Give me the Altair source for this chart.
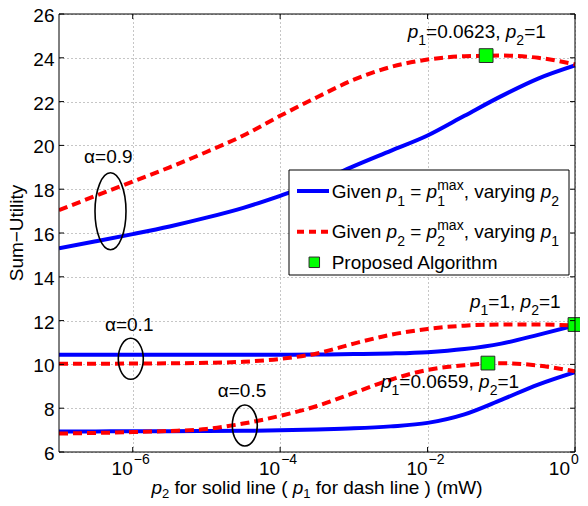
import altair as alt
import pandas as pd

FONT = "Liberation Sans"

# ---------------- data ----------------
p_grid = [1e-7, 3.162e-7, 1e-6, 3.162e-6, 1e-5, 3.162e-5, 1e-4, 3.162e-4,
          1e-3, 3.162e-3, 1e-2, 3.162e-2, 0.1, 0.3162, 1.0]

solid_a09 = [15.30, 15.62, 15.95, 16.30, 16.70, 17.15, 17.70, 18.30, 19.05, 19.75, 20.45, 21.35, 22.25, 23.05, 23.65]
dash_a09 = [17.04, 17.70, 18.35, 19.00, 19.70, 20.45, 21.35, 22.20, 23.00, 23.58, 23.92, 24.07, 24.10, 24.00, 23.70]
solid_a01 = [10.44, 10.44, 10.44, 10.44, 10.44, 10.44, 10.44, 10.45, 10.47, 10.50, 10.56, 10.70, 10.95, 11.35, 11.78]
dash_a01 = [10.03, 10.03, 10.04, 10.05, 10.07, 10.12, 10.25, 10.50, 10.95, 11.35, 11.62, 11.77, 11.82, 11.82, 11.78]
solid_a05 = [6.94, 6.94, 6.95, 6.95, 6.96, 6.97, 6.99, 7.03, 7.08, 7.17, 7.33, 7.72, 8.38, 9.08, 9.65]
dash_a05 = [6.84, 6.87, 6.91, 6.96, 7.05, 7.30, 7.65, 8.10, 8.70, 9.30, 9.75, 9.96, 10.05, 9.95, 9.68]

alg_p = [0.0623, 1.0, 0.0659]
alg_u = [24.10, 11.82, 10.06]

x_ticks = [1e-6, 1e-4, 1e-2, 1.0]
x_tick_exp = ["\u22126", "\u22124", "\u22122", "0"]
y_ticks = [6, 8, 10, 12, 14, 16, 18, 20, 22, 24, 26]

# ---------------- tables ----------------
rows = []
for a, s, d in [("0.9", solid_a09, dash_a09), ("0.1", solid_a01, dash_a01), ("0.5", solid_a05, dash_a05)]:
    for p, v in zip(p_grid, s):
        rows.append({"p": p, "u": v, "alpha": a, "kind": "solid"})
    for p, v in zip(p_grid, d):
        rows.append({"p": p, "u": v, "alpha": a, "kind": "dash"})
df = pd.DataFrame(rows)
df_alg = pd.DataFrame({"p": alg_p, "u": alg_u})
df_xt = pd.DataFrame({"p": x_ticks, "exp": x_tick_exp})
df_xt_in = df_xt.iloc[:-1]
df_xt_last = df_xt.iloc[-1:]
df_yt = pd.DataFrame({"u": y_ticks})
one = pd.DataFrame({"k": [0]})

PAD_L, PAD_T = 51, 6
W_PLOT, H_PLOT = 516, 438
OX, OY = 8 + PAD_L, 8 + PAD_T   # page position of the plot origin


def px(v):
    return v - OX


def py(v):
    return v - OY


xscale = alt.Scale(type="log", domain=[1e-7, 1.0], nice=False)
yscale = alt.Scale(domain=[6, 26], nice=False, zero=False)
xaxis = alt.Axis(values=x_ticks, labels=False, ticks=False, domain=False, grid=True,
                 gridDash=[1, 3], gridColor="#8c8c8c", gridWidth=1, title=None)
yaxis = alt.Axis(values=y_ticks, ticks=False, tickSize=0, domain=False, grid=True,
                 gridDash=[1, 3], gridColor="#8c8c8c", gridWidth=1, title=None,
                 labelFont=FONT, labelFontSize=19, labelColor="black", labelPadding=5,
                 labelOverlap=False, labelOffset=1.5)


def X():
    return alt.X("p:Q", scale=xscale, axis=xaxis)


def Y():
    return alt.Y("u:Q", scale=yscale, axis=yaxis)


# ---------------- rich text helper ----------------
WID = {' ': .278, ',': .278, '.': .278, '=': .584, '(': .333, ')': .333, '\u2212': .584,
       'a': .556, 'c': .5, 'd': .556, 'e': .556, 'f': .278, 'g': .556, 'h': .556, 'i': .222,
       'l': .222, 'm': .833, 'n': .556, 'o': .556, 'p': .556, 'r': .333, 's': .5, 't': .278,
       'u': .556, 'v': .5, 'x': .5, 'y': .5, 'A': .667, 'G': .778, 'P': .667, 'S': .667,
       'U': .722, 'W': .944}


def tw(s, fs):
    return sum(WID.get(c, .556) for c in s) * fs


def rich(segs, x0, y0, fs=19, fss=14, sub=7, sup=-8, center=False):
    """x0, y0 in page pixels (left start or centre, alphabetic baseline)."""
    pieces = []
    x = 0.0

    def add(text, dy, size, it):
        lead = len(text) - len(text.lstrip(" "))
        body = text.strip(" ")
        if body:
            pieces.append((body, x + tw(" " * lead, size), dy, size, it))
        return tw(text, size)

    for text, kind in segs:
        if kind == "n":
            x += add(text, 0, fs, False)
        elif kind == "i":
            x += add(text, 0, fs, True)
        elif kind == "sub":
            x += add(text, sub, fss, False)
        elif kind == "ss":
            up, dn = text
            w1 = add(up, sup, fss, False)
            w2 = add(dn, sub, fss, False)
            x += max(w1, w2)
    off = px(x0) - x / 2 if center else px(x0)
    layers = []
    for t, qx, qy, size, it in pieces:
        layers.append(
            alt.Chart(one).mark_text(text=t, align="left", baseline="alphabetic", font=FONT,
                                     fontSize=size, fontStyle="italic" if it else "normal",
                                     color="black")
            .encode(x=alt.value(off + qx), y=alt.value(py(y0) + qy))
        )
    return layers


def ellipse_path(ratio):
    r = round(ratio, 4)
    return f"M {-r} 0 A {r} 1 0 1 0 {r} 0 A {r} 1 0 1 0 {-r} 0 Z"


# ---------------- marks ----------------
base_solid = alt.Chart(df[df.kind == "solid"]).mark_line(
    color="#0000ff", strokeWidth=4, interpolate="monotone", clip=True
).encode(x=X(), y=Y(), detail="alpha:N")

base_dash = alt.Chart(df[df.kind == "dash"]).mark_line(
    color="#ff0000", strokeWidth=4, strokeDash=[9, 5], interpolate="monotone", clip=True
).encode(x=X(), y=Y(), detail="alpha:N")

squares = alt.Chart(df_alg).mark_point(
    shape="square", filled=True, fill="#00ff00", stroke="#2a2a2a", strokeWidth=1,
    size=190, opacity=1
).encode(x=X(), y=Y())

# inward ticks
tick_l = alt.Chart(df_yt).mark_rule(color="black", strokeWidth=1).encode(
    y=Y(), x=alt.value(0), x2=alt.value(5))
tick_r = alt.Chart(df_yt).mark_rule(color="black", strokeWidth=1).encode(
    y=Y(), x=alt.value(W_PLOT - 5), x2=alt.value(W_PLOT))
tick_b = alt.Chart(df_xt).mark_rule(color="black", strokeWidth=1).encode(
    x=X(), y=alt.value(H_PLOT - 5), y2=alt.value(H_PLOT))
tick_t = alt.Chart(df_xt).mark_rule(color="black", strokeWidth=1).encode(
    x=X(), y=alt.value(0), y2=alt.value(5))

frame = alt.Chart(one).mark_rect(fillOpacity=0, stroke="black", strokeWidth=1).encode(
    x=alt.value(0), x2=alt.value(W_PLOT), y=alt.value(0), y2=alt.value(H_PLOT))

# x tick labels 10^k
XB, XS = py(475), py(464)
xlab_layers = []
for dfx, shift in [(df_xt_in, 0), (df_xt_last, -5)]:
    xlab_layers.append(alt.Chart(dfx).mark_text(
        text="10", align="right", baseline="alphabetic", font=FONT, fontSize=19, color="black",
        dx=shift
    ).encode(x=X(), y=alt.value(XB)))
    xlab_layers.append(alt.Chart(dfx).mark_text(
        align="left", baseline="alphabetic", font=FONT, fontSize=14, color="black", dx=shift + 1
    ).encode(x=X(), y=alt.value(XS), text="exp:N"))

# y title
ytitle = alt.Chart(one).mark_text(
    text="Sum\u2212Utility", angle=270, align="center", baseline="middle", font=FONT,
    fontSize=19, color="black"
).encode(x=alt.value(px(17)), y=alt.value(H_PLOT / 2))

# legend
leg_box = alt.Chart(one).mark_rect(fill="white", stroke="black", strokeWidth=1).encode(
    x=alt.value(px(289)), x2=alt.value(px(569)), y=alt.value(py(170)), y2=alt.value(py(275)))
leg_blue = alt.Chart(one).mark_rule(color="#0000ff", strokeWidth=4).encode(
    x=alt.value(px(297)), x2=alt.value(px(329)), y=alt.value(py(191)))
leg_red = alt.Chart(one).mark_rule(color="#ff0000", strokeWidth=4, strokeDash=[7, 5]).encode(
    x=alt.value(px(297)), x2=alt.value(px(329)), y=alt.value(py(231.7)))
leg_sq = alt.Chart(one).mark_point(
    shape="square", filled=True, fill="#00ff00", stroke="#2a2a2a", strokeWidth=1, size=110, opacity=1
).encode(x=alt.value(px(314.3)), y=alt.value(py(262.3)))

layers = [base_solid, base_dash, squares, leg_box, leg_blue, leg_red, leg_sq]

layers += rich([("Given ", "n"), ("p", "i"), ("1", "sub"), (" = ", "n"), ("p", "i"),
                (("max", "1"), "ss"), (", varying ", "n"), ("p", "i"), ("2", "sub")],
               331.7, 197.7, sub=8, sup=-8)
layers += rich([("Given ", "n"), ("p", "i"), ("2", "sub"), (" = ", "n"), ("p", "i"),
                (("max", "2"), "ss"), (", varying ", "n"), ("p", "i"), ("1", "sub")],
               331.7, 238.3, sub=8, sup=-8)
layers += rich([("Proposed Algorithm", "n")], 331.7, 269)

# point annotations
layers += rich([("p", "i"), ("1", "sub"), ("=0.0623, ", "n"), ("p", "i"), ("2", "sub"), ("=1", "n")],
               407.7, 38.3)
layers += rich([("p", "i"), ("1", "sub"), ("=1, ", "n"), ("p", "i"), ("2", "sub"), ("=1", "n")],
               470, 308.3)
layers += rich([("p", "i"), ("1", "sub"), ("=0.0659, ", "n"), ("p", "i"), ("2", "sub"), ("=1", "n")],
               381, 388.3)

# alpha labels and ellipses
for lab, lx, ly in [("\u03b1=0.9", 108.3, 162.7), ("\u03b1=0.1", 129.2, 331), ("\u03b1=0.5", 242, 397.3)]:
    layers.append(alt.Chart(one).mark_text(
        text=lab, align="center", baseline="alphabetic", font=FONT, fontSize=19, color="black"
    ).encode(x=alt.value(px(lx)), y=alt.value(py(ly))))

for cx, cy, rx, ry in [(110.5, 211.3, 15.5, 38.5), (130.8, 358.8, 12.5, 20.5), (244.8, 425.5, 12.5, 20.5)]:
    layers.append(alt.Chart(one).mark_point(
        shape=ellipse_path(rx / ry), filled=False, stroke="black", strokeWidth=1.6,
        size=(2 * ry) ** 2, opacity=1
    ).encode(x=alt.value(px(cx)), y=alt.value(py(cy))))

# x title
layers += rich([("p", "i"), ("2", "sub"), (" for solid line ( ", "n"), ("p", "i"), ("1", "sub"),
                (" for dash line ) (mW)", "n")], OX + W_PLOT / 2, 494, fss=13, sub=4, center=True)

layers += [tick_l, tick_r, tick_b, tick_t, frame] + xlab_layers + [ytitle]

chart = alt.layer(*layers).properties(
    width=W_PLOT, height=H_PLOT,
    padding={"left": PAD_L, "top": PAD_T, "right": 5, "bottom": 46},
    autosize=alt.AutoSizeParams(type="none"),
    background="white",
).configure_view(stroke=None)

chart.save("out.html", embed_options={"renderer": "svg", "actions": False})
